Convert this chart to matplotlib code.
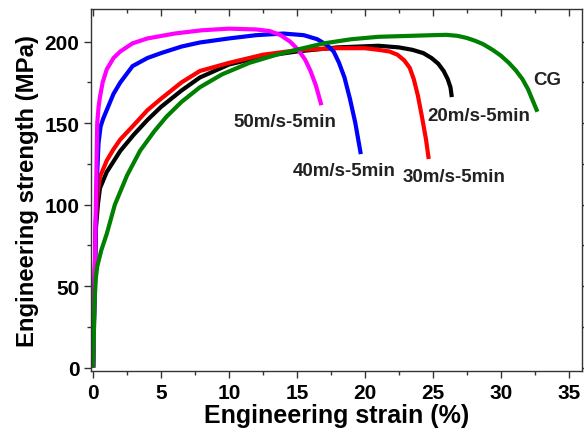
import matplotlib.pyplot as plt
from matplotlib.ticker import MultipleLocator

# ---- Data (strain %, stress MPa) ----
STRAIN_20 = [0, 0.1, 0.2, 0.35, 0.5, 1, 2, 3, 4, 5, 6.5, 7.85, 10, 12.5, 15, 18, 21,
             22.5, 23.5, 24.3, 24.9, 25.4, 25.8, 26.1, 26.3, 26.4]
STRESS_20 = [0, 50, 85, 100, 110, 120, 133, 143, 152, 160, 170, 178, 186, 191, 194,
             196.5, 197.5, 196.5, 195, 193, 190, 186.5, 182, 177, 172, 166]

STRAIN_30 = [0, 0.1, 0.2, 0.35, 0.5, 1, 1.5, 2, 2.9, 4, 5, 6.5, 7.85, 10, 12.5, 15.2,
             18, 20, 21, 21.8, 22.4, 22.9, 23.3, 23.6, 23.9, 24.2, 24.5, 24.7]
STRESS_30 = [0, 50, 90, 108, 117, 127, 134, 140, 148, 158, 165, 175, 182, 187, 192,
             195, 196, 196, 195, 194, 192, 188.5, 184, 177, 167, 154, 140, 128]

STRAIN_40 = [0, 0.1, 0.2, 0.3, 0.4, 0.55, 0.75, 1.0, 1.5, 2, 2.9, 4, 5, 6.5, 7.85, 10,
             12, 14, 15.5, 16.5, 17.2, 17.7, 18.1, 18.5, 18.9, 19.3, 19.7]
STRESS_40 = [0, 40, 90, 120, 138, 148, 153, 158, 168, 175, 185, 190, 193, 197, 199.5,
             202, 204, 205, 204, 201.5, 198, 194, 187, 178, 165, 150, 131]

STRAIN_50 = [0, 0.1, 0.2, 0.3, 0.4, 0.5, 0.7, 1.0, 1.5, 2, 2.9, 4, 6, 8, 10, 12, 13,
             13.8, 14.5, 15.1, 15.6, 16.0, 16.4, 16.8]
STRESS_50 = [0, 50, 100, 150, 160, 166, 175, 183, 190, 194, 199, 202, 205, 207, 208,
             207.5, 206.5, 204, 200, 195, 189, 182, 173, 161]

STRAIN_CG = [0, 0.05, 0.1, 0.2, 0.3, 0.6, 1.0, 1.6, 2.5, 3.45, 4.5, 5.4, 6.5, 7.85,
             9.5, 11.5, 13.5, 15.2, 17, 19, 21, 23, 25, 26, 26.8, 27.5, 28.1, 28.7,
             29.4, 30, 30.6, 31.1, 31.6, 32, 32.3, 32.5, 32.7]
STRESS_CG = [0, 20, 40, 55, 62, 72, 82, 100, 118, 133, 145, 154, 163, 172, 180, 187,
             192, 195.5, 199, 201.5, 203, 203.5, 204, 204.2, 203.6, 202.3, 200.6,
             198.5, 195, 191.5, 187, 182.5, 177, 171, 165, 161, 157]

SERIES = [
    ("20m/s-5min", STRAIN_20, STRESS_20, "black"),
    ("30m/s-5min", STRAIN_30, STRESS_30, "#ff0000"),
    ("40m/s-5min", STRAIN_40, STRESS_40, "#0000ff"),
    ("50m/s-5min", STRAIN_50, STRESS_50, "#ff00ff"),
    ("CG", STRAIN_CG, STRESS_CG, "#008000"),
]

# label anchor (left, vertical centre) in data coords
LABEL_POS = {
    "50m/s-5min": (10.3, 151),
    "40m/s-5min": (14.7, 121),
    "30m/s-5min": (22.8, 117),
    "20m/s-5min": (24.6, 155),
    "CG": (32.4, 177),
}


def main() -> None:
    plt.rcParams["font.family"] = ["Liberation Sans", "DejaVu Sans"]
    plt.rcParams["font.weight"] = "bold"

    fig = plt.figure(figsize=(5.84, 4.39), dpi=100)
    ax = fig.add_axes([0.156, 0.153, 0.841, 0.824])

    for name, x, y, color in SERIES:
        ax.plot(x, y, color=color, lw=3, solid_capstyle="butt", solid_joinstyle="round")
        lx, ly = LABEL_POS[name]
        ax.text(lx, ly, name, ha="left", va="center", fontsize=13.5,
                fontweight="bold", color="#222222")

    ax.set_xlim(-0.15, 36)
    ax.set_ylim(-2, 220)
    ax.xaxis.set_major_locator(MultipleLocator(5))
    ax.xaxis.set_minor_locator(MultipleLocator(2.5))
    ax.yaxis.set_major_locator(MultipleLocator(50))
    ax.yaxis.set_minor_locator(MultipleLocator(25))

    ax.tick_params(which="both", direction="out", top=True, right=True,
                   labelsize=15, width=1, color="#333333")
    ax.tick_params(which="major", length=5)
    ax.tick_params(which="minor", length=3)
    # mirrored ticks on top/right point inward
    for t in ax.xaxis.get_ticklines(minor=False)[1::2] + ax.xaxis.get_ticklines(minor=True)[1::2]:
        t.set_marker(3)
    for t in ax.yaxis.get_ticklines(minor=False)[1::2] + ax.yaxis.get_ticklines(minor=True)[1::2]:
        t.set_marker(1)
    for lab in ax.get_xticklabels() + ax.get_yticklabels():
        lab.set_fontweight("bold")

    for sp in ax.spines.values():
        sp.set_linewidth(1)
        sp.set_color("#333333")

    ax.set_xlabel("Engineering strain (%)", fontsize=18, fontweight="bold", labelpad=1)
    ax.set_ylabel("Engineering strength (MPa)", fontsize=17.2, fontweight="bold", labelpad=4)

    fig.savefig("out.png", dpi=100)
    plt.close(fig)


if __name__ == "__main__":
    main()
